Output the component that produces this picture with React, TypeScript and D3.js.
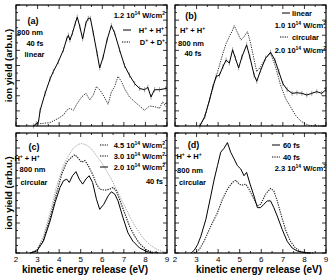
import React from "react";
import * as d3 from "d3";

// kinetic energy axis (eV)
const xTickLabels = [2, 3, 4, 5, 6, 7, 8, 9];

// (a) linear, 1.2e14 W/cm2
const aHEnergy = [2.81, 2.94, 3.04, 3.12, 3.35, 3.58, 3.73, 3.96, 4.2, 4.35, 4.43, 4.5, 4.62, 4.75, 4.84, 4.96, 5.09, 5.24, 5.35, 5.45, 5.58, 5.76, 5.88, 6.04, 6.22, 6.42, 6.57, 6.8, 7.03, 7.26, 7.5, 7.73, 7.96, 8.11, 8.26, 8.42, 8.65, 8.95];
const aHYield = [0, 0.02, 0.03, 0.13, 0.27, 0.39, 0.45, 0.53, 0.63, 0.72, 0.75, 0.71, 0.77, 0.85, 0.9, 0.82, 0.72, 0.85, 0.89, 0.89, 0.77, 0.6, 0.48, 0.57, 0.71, 0.83, 0.77, 0.63, 0.5, 0.42, 0.35, 0.31, 0.3, 0.32, 0.24, 0.3, 0.3, 0.31];
const aDEnergy = [2.81, 2.97, 3.27, 3.58, 3.96, 4.2, 4.35, 4.5, 4.66, 4.84, 5.04, 5.24, 5.42, 5.58, 5.73, 5.88, 6.04, 6.27, 6.42, 6.57, 6.73, 6.88, 7.03, 7.26, 7.5, 7.73, 7.96, 8.19, 8.42, 8.65, 8.8, 8.95];
const aDYield = [0, 0.017, 0.022, 0.028, 0.063, 0.091, 0.13, 0.146, 0.13, 0.187, 0.24, 0.27, 0.215, 0.256, 0.325, 0.3, 0.256, 0.18, 0.28, 0.325, 0.41, 0.37, 0.31, 0.24, 0.2, 0.165, 0.13, 0.165, 0.16, 0.146, 0.2, 0.16];

// (b) linear 1.0e14 vs circular 2.0e14
const bLinEnergy = [3.15, 3.38, 3.6, 3.76, 3.91, 4.06, 4.22, 4.37, 4.52, 4.67, 4.8, 4.95, 5.1, 5.32, 5.47, 5.67, 5.79, 5.97, 6.2, 6.43, 6.63, 6.81, 7.0, 7.2, 7.43, 7.65, 7.88, 8.11, 8.34, 8.57, 8.8, 9.0];
const bLinYield = [0, 0.077, 0.215, 0.325, 0.41, 0.42, 0.49, 0.545, 0.52, 0.63, 0.56, 0.48, 0.57, 0.67, 0.57, 0.42, 0.37, 0.46, 0.56, 0.61, 0.545, 0.45, 0.35, 0.3, 0.27, 0.275, 0.27, 0.256, 0.27, 0.284, 0.27, 0.3];
const bCircEnergy = [3.15, 3.38, 3.6, 3.76, 3.91, 4.06, 4.22, 4.37, 4.52, 4.64, 4.75, 4.9, 5.06, 5.21, 5.36, 5.51, 5.67, 5.79, 5.97, 6.2, 6.43, 6.66, 6.89, 7.12, 7.35, 7.58, 7.81, 8.04, 8.27, 8.49, 9.0];
const bCircYield = [0, 0.077, 0.215, 0.325, 0.41, 0.5, 0.6, 0.68, 0.74, 0.78, 0.83, 0.77, 0.71, 0.74, 0.78, 0.68, 0.545, 0.45, 0.49, 0.56, 0.6, 0.49, 0.34, 0.23, 0.16, 0.09, 0.044, 0.017, 0.003, 0, 0];

// (c) circular, three intensities
const c45Energy = [2.66, 2.97, 3.27, 3.58, 3.89, 4.2, 4.43, 4.66, 4.89, 5.04, 5.27, 5.5, 5.73, 5.96, 6.19, 6.42, 6.65, 6.88, 7.11, 7.34, 7.57, 7.8, 8.03, 8.26, 8.49, 8.72, 8.95];
const c45Yield = [0, 0.028, 0.14, 0.336, 0.56, 0.73, 0.81, 0.874, 0.905, 0.913, 0.9, 0.868, 0.81, 0.756, 0.686, 0.616, 0.532, 0.448, 0.364, 0.28, 0.21, 0.146, 0.098, 0.062, 0.034, 0.017, 0.006];
const c30Energy = [2.66, 2.97, 3.27, 3.58, 3.89, 4.12, 4.35, 4.58, 4.73, 4.89, 5.04, 5.19, 5.35, 5.58, 5.73, 5.88, 6.11, 6.34, 6.5, 6.65, 6.8, 7.03, 7.26, 7.5, 7.73, 8.03, 8.34, 8.65];
const c30Yield = [0, 0.022, 0.112, 0.294, 0.504, 0.658, 0.756, 0.8, 0.818, 0.79, 0.756, 0.77, 0.728, 0.644, 0.574, 0.532, 0.524, 0.532, 0.546, 0.518, 0.448, 0.336, 0.224, 0.14, 0.078, 0.028, 0.006, 0];
const c20Energy = [2.66, 2.97, 3.27, 3.58, 3.81, 4.04, 4.2, 4.35, 4.47, 4.62, 4.78, 4.93, 5.09, 5.24, 5.39, 5.55, 5.73, 5.88, 6.07, 6.27, 6.42, 6.58, 6.73, 6.96, 7.19, 7.42, 7.73, 8.03, 8.34];
const c20Yield = [0, 0.017, 0.098, 0.266, 0.42, 0.546, 0.602, 0.616, 0.588, 0.644, 0.678, 0.616, 0.574, 0.616, 0.644, 0.588, 0.448, 0.364, 0.406, 0.476, 0.51, 0.49, 0.434, 0.294, 0.168, 0.098, 0.042, 0.014, 0];

// (d) circular, 60 fs vs 40 fs
const d60Energy = [2.74, 2.89, 3.05, 3.2, 3.43, 3.66, 3.82, 3.97, 4.12, 4.28, 4.43, 4.58, 4.74, 4.89, 5.05, 5.2, 5.32, 5.48, 5.66, 5.82, 5.97, 6.12, 6.28, 6.43, 6.58, 6.74, 6.97, 7.2, 7.43, 7.66, 7.97, 8.28];
const d60Yield = [0, 0.022, 0.07, 0.14, 0.28, 0.476, 0.616, 0.728, 0.84, 0.874, 0.92, 0.84, 0.784, 0.728, 0.7, 0.644, 0.672, 0.574, 0.476, 0.378, 0.378, 0.406, 0.434, 0.434, 0.378, 0.308, 0.196, 0.098, 0.042, 0.017, 0.003, 0];
const d40Energy = [2.89, 3.12, 3.35, 3.66, 3.97, 4.2, 4.43, 4.66, 4.82, 4.97, 5.12, 5.28, 5.43, 5.66, 5.82, 5.97, 6.2, 6.43, 6.58, 6.74, 6.89, 7.12, 7.35, 7.58, 7.82, 8.12, 8.43];
const d40Yield = [0, 0.028, 0.098, 0.224, 0.336, 0.448, 0.532, 0.588, 0.608, 0.574, 0.566, 0.574, 0.532, 0.448, 0.392, 0.406, 0.49, 0.538, 0.518, 0.434, 0.336, 0.196, 0.098, 0.042, 0.014, 0.003, 0];

const FONT = "'Liberation Sans', Arial, Helvetica, sans-serif";
const DOT = "1.3 1.1";

type Series = {
  e: number[];
  v: number[];
  stroke: string;
  dash?: string;
  width?: number;
  errors?: boolean;
};

// text pieces: [string, isSuperscript]
type Part = [string, boolean];
type Note = { x: number; y: number; text: Part[] | string; anchor?: string; size?: number };

const HH: Part[] = [["H", false], ["+", true], [" + H", false], ["+", true]];
const DD: Part[] = [["D", false], ["+", true], [" + D", false], ["+", true]];
const inten = (v: string): Part[] => [[v + " 10", false], ["14", true], [" W/cm", false], ["2", true]];

function RichText({ parts }: { parts: Part[] }) {
  let up = false;
  return (
    <>
      {parts.map(([s, sup], i) => {
        const dy = sup === up ? 0 : sup ? -3 : 3;
        up = sup;
        return (
          <tspan key={i} dy={dy} fontSize={sup ? 5 : undefined}>{s}</tspan>
        );
      })}
    </>
  );
}

function Panel({ x0, y0, w, h, series, showLabels, notes, keys }: {
  x0: number; y0: number; w: number; h: number; series: Series[]; showLabels: boolean;
  notes: Note[]; keys: { x: number; y: number; dash?: string }[];
}) {
  const x = d3.scaleLinear().domain([2, 9]).range([x0, x0 + w]);
  const y = d3.scaleLinear().domain([0, 1]).range([y0 + h, y0]);
  const line = d3.line<[number, number]>().x((d) => x(d[0])).y((d) => y(d[1]));
  const xt = d3.range(2, 9.01, 0.5);
  const yt = d3.range(0, 1.001, 0.0625);

  return (
    <g>
      {series.map((s, i) => {
        const pts = s.e.map((e, j) => [e, s.v[j]] as [number, number]);
        return (
          <g key={i}>
            {s.errors && pts.map((p, j) => (
              <line key={j} x1={x(p[0])} x2={x(p[0])} y1={y(p[1]) - 2.5} y2={y(p[1]) + 2.5} stroke="#666" strokeWidth={0.6} />
            ))}
            <path d={line(pts) || ""} fill="none" stroke={s.stroke} strokeWidth={s.width ?? 1} strokeDasharray={s.dash} />
          </g>
        );
      })}
      {xt.map((t, i) => {
        const major = Number.isInteger(t);
        const len = major ? 4 : 2;
        return (
          <g key={"x" + i} stroke="#000" strokeWidth={0.8}>
            <line x1={x(t)} x2={x(t)} y1={y0 + h} y2={y0 + h - len} />
            <line x1={x(t)} x2={x(t)} y1={y0} y2={y0 + len} />
          </g>
        );
      })}
      {yt.map((t, i) => {
        const len = i % 2 === 0 ? 4 : 2;
        return (
          <g key={"y" + i} stroke="#000" strokeWidth={0.8}>
            <line x1={x0} x2={x0 + len} y1={y(t)} y2={y(t)} />
            <line x1={x0 + w} x2={x0 + w - len} y1={y(t)} y2={y(t)} />
          </g>
        );
      })}
      <rect x={x0} y={y0} width={w} height={h} fill="none" stroke="#000" strokeWidth={1.2} />
      {showLabels && xTickLabels.map((t) => (
        <text key={t} x={x(t)} y={y0 + h + 8.5} textAnchor="middle" fontSize={8} fontFamily={FONT}>{t}</text>
      ))}
      {keys.map((k, i) => (
        <line key={"k" + i} x1={k.x} x2={k.x + 8} y1={k.y} y2={k.y} stroke="#000" strokeWidth={1} strokeDasharray={k.dash} />
      ))}
      {notes.map((n, i) => (
        <text key={"n" + i} x={n.x} y={n.y} textAnchor={n.anchor ?? "middle"} fontSize={n.size ?? 7.5} fontWeight="bold" fontFamily={FONT}>
          {typeof n.text === "string" ? n.text : <RichText parts={n.text} />}
        </text>
      ))}
    </g>
  );
}

export default function App() {
  const W = 151, H = 121;
  return (
    <svg width={330} height={276} style={{ position: "absolute", left: 0, top: 0, background: "#fff" }}>
      <Panel x0={16} y0={5} w={W} h={H} showLabels={false}
        series={[
          { e: aDEnergy, v: aDYield, stroke: "#333", dash: DOT },
          { e: aHEnergy, v: aHYield, stroke: "#000", errors: true },
        ]}
        keys={[{ x: 123, y: 30 }, { x: 122, y: 42, dash: DOT }]}
        notes={[
          { x: 33, y: 23.5, text: "(a)", size: 9 },
          { x: 30, y: 34.5, text: "800 nm" },
          { x: 35, y: 46, text: "40 fs" },
          { x: 34.5, y: 57, text: "linear" },
          { x: 165, y: 18, anchor: "end", text: inten("1.2") },
          { x: 164, y: 33, anchor: "end", text: HH },
          { x: 165, y: 45, anchor: "end", text: DD },
        ]}
      />
      <Panel x0={175} y0={5} w={W} h={H} showLabels={false}
        series={[
          { e: bCircEnergy, v: bCircYield, stroke: "#333", dash: DOT },
          { e: bLinEnergy, v: bLinYield, stroke: "#000", errors: true },
        ]}
        keys={[{ x: 282, y: 13 }, { x: 280, y: 37, dash: DOT }]}
        notes={[
          { x: 191, y: 18.5, text: "(b)", size: 9 },
          { x: 192.5, y: 33, text: HH },
          { x: 191, y: 45.5, text: "800 nm" },
          { x: 193, y: 56, text: "40 fs" },
          { x: 312, y: 16, anchor: "end", text: "linear" },
          { x: 326, y: 28, anchor: "end", text: inten("1.0") },
          { x: 319, y: 40, anchor: "end", text: "circular" },
          { x: 326, y: 53, anchor: "end", text: inten("2.0") },
        ]}
      />
      <Panel x0={16} y0={133} w={W} h={120} showLabels={true}
        series={[
          { e: c45Energy, v: c45Yield, stroke: "#999", dash: DOT, width: 0.9 },
          { e: c30Energy, v: c30Yield, stroke: "#222", dash: DOT, width: 1.2 },
          { e: c20Energy, v: c20Yield, stroke: "#000" },
        ]}
        keys={[
          { x: 100, y: 145, dash: DOT },
          { x: 100, y: 156, dash: DOT },
          { x: 100, y: 167 },
        ]}
        notes={[
          { x: 34, y: 150, text: "(c)", size: 9 },
          { x: 27, y: 161, text: HH },
          { x: 32.5, y: 172, text: "800 nm" },
          { x: 34, y: 184.5, text: "circular" },
          { x: 165, y: 148, anchor: "end", text: inten("4.5") },
          { x: 165, y: 159, anchor: "end", text: inten("3.0") },
          { x: 165, y: 170, anchor: "end", text: inten("2.0") },
          { x: 163, y: 183.5, anchor: "end", text: "40 fs" },
        ]}
      />
      <Panel x0={175} y0={133} w={W} h={120} showLabels={true}
        series={[
          { e: d40Energy, v: d40Yield, stroke: "#222", dash: DOT, width: 1.1 },
          { e: d60Energy, v: d60Yield, stroke: "#000" },
        ]}
        keys={[{ x: 272, y: 145 }, { x: 272, y: 157, dash: DOT }]}
        notes={[
          { x: 193.5, y: 148, text: "(d)", size: 9 },
          { x: 189, y: 159, text: HH },
          { x: 190, y: 173, text: "800 nm" },
          { x: 192.5, y: 184.5, text: "circular" },
          { x: 300, y: 148, anchor: "end", text: "60 fs" },
          { x: 300, y: 159.5, anchor: "end", text: "40 fs" },
          { x: 326, y: 171, anchor: "end", text: inten("2.3") },
        ]}
      />
      {[65.5, 193].map((cy, i) => (
        <text key={i} transform={`translate(11.5,${cy}) rotate(-90)`} textAnchor="middle" fontSize={9.5} fontWeight="bold" fontFamily={FONT}>ion yield (arb.u.)</text>
      ))}
      {[85, 259].map((cx, i) => (
        <text key={i} x={cx} y={272.5} textAnchor="middle" fontSize={10} fontWeight="bold" fontFamily={FONT}>kinetic energy release (eV)</text>
      ))}
    </svg>
  );
}
